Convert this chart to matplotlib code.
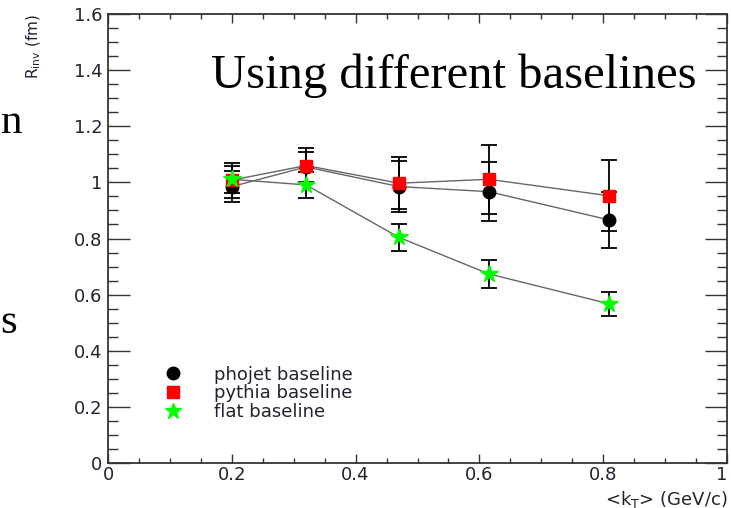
import matplotlib
matplotlib.use("Agg")
import matplotlib.pyplot as plt
from matplotlib.lines import Line2D
from matplotlib.ticker import MultipleLocator

# mean kT (GeV/c)
kt = [0.20, 0.32, 0.47, 0.615, 0.81]

# R_inv (fm) for each baseline, with errors
phojet = [0.985, 1.055, 0.985, 0.967, 0.866]
phojet_err = [0.056, 0.052, 0.090, 0.104, 0.100]
pythia = [1.008, 1.060, 0.997, 1.011, 0.952]
pythia_err = [0.062, 0.062, 0.093, 0.123, 0.126]
flat = [1.011, 0.991, 0.804, 0.674, 0.567]
flat_err = [0.049, 0.045, 0.049, 0.049, 0.043]

labels = ["phojet baseline", "pythia baseline", "flat baseline"]
xticks = [0, 0.2, 0.4, 0.6, 0.8, 1.0]
xticklabels = ["0", "0.2", "0.4", "0.6", "0.8", "1"]
yticks = [0, 0.2, 0.4, 0.6, 0.8, 1.0, 1.2, 1.4, 1.6]
yticklabels = ["0", "0.2", "0.4", "0.6", "0.8", "1", "1.2", "1.4", "1.6"]

plt.rcParams["font.family"] = ["DejaVu Sans"]

fig = plt.figure(figsize=(7.31, 5.08), dpi=100)
ax = fig.add_axes([108 / 731, 45 / 508, 619 / 731, 449 / 508])

series = [
    (phojet, phojet_err, "o", "black", 9),
    (pythia, pythia_err, "s", "#ff0000", 9),
    (flat, flat_err, "*", "#00ff00", 13),
]
for vals, errs, mk, col, ms in series:
    ax.plot(kt, vals, color="#666666", lw=1.0, zorder=2)
    ax.errorbar(kt, vals, yerr=errs, fmt="none", ecolor="black",
                elinewidth=1.3, capsize=5.5, capthick=1.3, zorder=3)
    ax.plot(kt, vals, ls="none", marker=mk, color=col, ms=ms,
            mec=col, zorder=4)

ax.set_xlim(0, 1)
ax.set_ylim(0, 1.6)
ax.set_xticks(xticks, xticklabels)
ax.set_yticks(yticks, yticklabels)
ax.xaxis.set_minor_locator(MultipleLocator(0.05))
ax.yaxis.set_minor_locator(MultipleLocator(0.05))
ax.get_xticklabels()[-1].set_ha("right")

ax.tick_params(axis="y", which="major", direction="in", length=15.5,
               width=1.0, color="#333333", left=True, right=True,
               labelsize=13, labelcolor="#222233", pad=4)
ax.tick_params(axis="y", which="minor", direction="in", length=7.5,
               width=1.0, color="#333333", left=True, right=True)
ax.tick_params(axis="x", which="major", direction="in", length=6.5,
               width=1.0, color="#333333", bottom=True, top=True,
               labelsize=13, labelcolor="#222233", pad=2)
ax.tick_params(axis="x", which="minor", direction="in", length=3.5,
               width=1.0, color="#333333", bottom=True, top=True)
for sp in ax.spines.values():
    sp.set_color("#333333")
    sp.set_linewidth(1.3)

handles = [
    Line2D([], [], ls="none", marker="o", color="black", ms=9),
    Line2D([], [], ls="none", marker="s", color="#ff0000", ms=8),
    Line2D([], [], ls="none", marker="*", color="#00ff00", ms=12),
]
ax.legend(handles, labels, loc="upper left", bbox_to_anchor=(0.083, 0.217),
          frameon=False, fontsize=13, labelspacing=0.05,
          handletextpad=1.55, borderaxespad=0, borderpad=0,
          handlelength=1.5, labelcolor="#222233")

ax.text(0.951, 0.835, "Using different baselines", transform=ax.transAxes,
        ha="right", va="baseline", family="Liberation Serif", fontsize=35)

fig.text(34 / 731, 1 - 14 / 508, r"R$_{\mathrm{inv}}$ (fm)", rotation=90,
         ha="center", va="top", fontsize=11, color="#222233")
fig.text(727 / 731, 1 - 499 / 508, r"<k$_{\mathrm{T}}$> (GeV/c)",
         ha="right", va="center", fontsize=13, color="#222233")

# bits of the surrounding slide text
fig.text(0.5 / 731, 1 - 133 / 508, "n", ha="left", va="baseline",
         family="Liberation Serif", fontsize=31)
fig.text(0.5 / 731, 1 - 333 / 508, "s", ha="left", va="baseline",
         family="Liberation Serif", fontsize=31)

fig.savefig("out.png", dpi=100)
